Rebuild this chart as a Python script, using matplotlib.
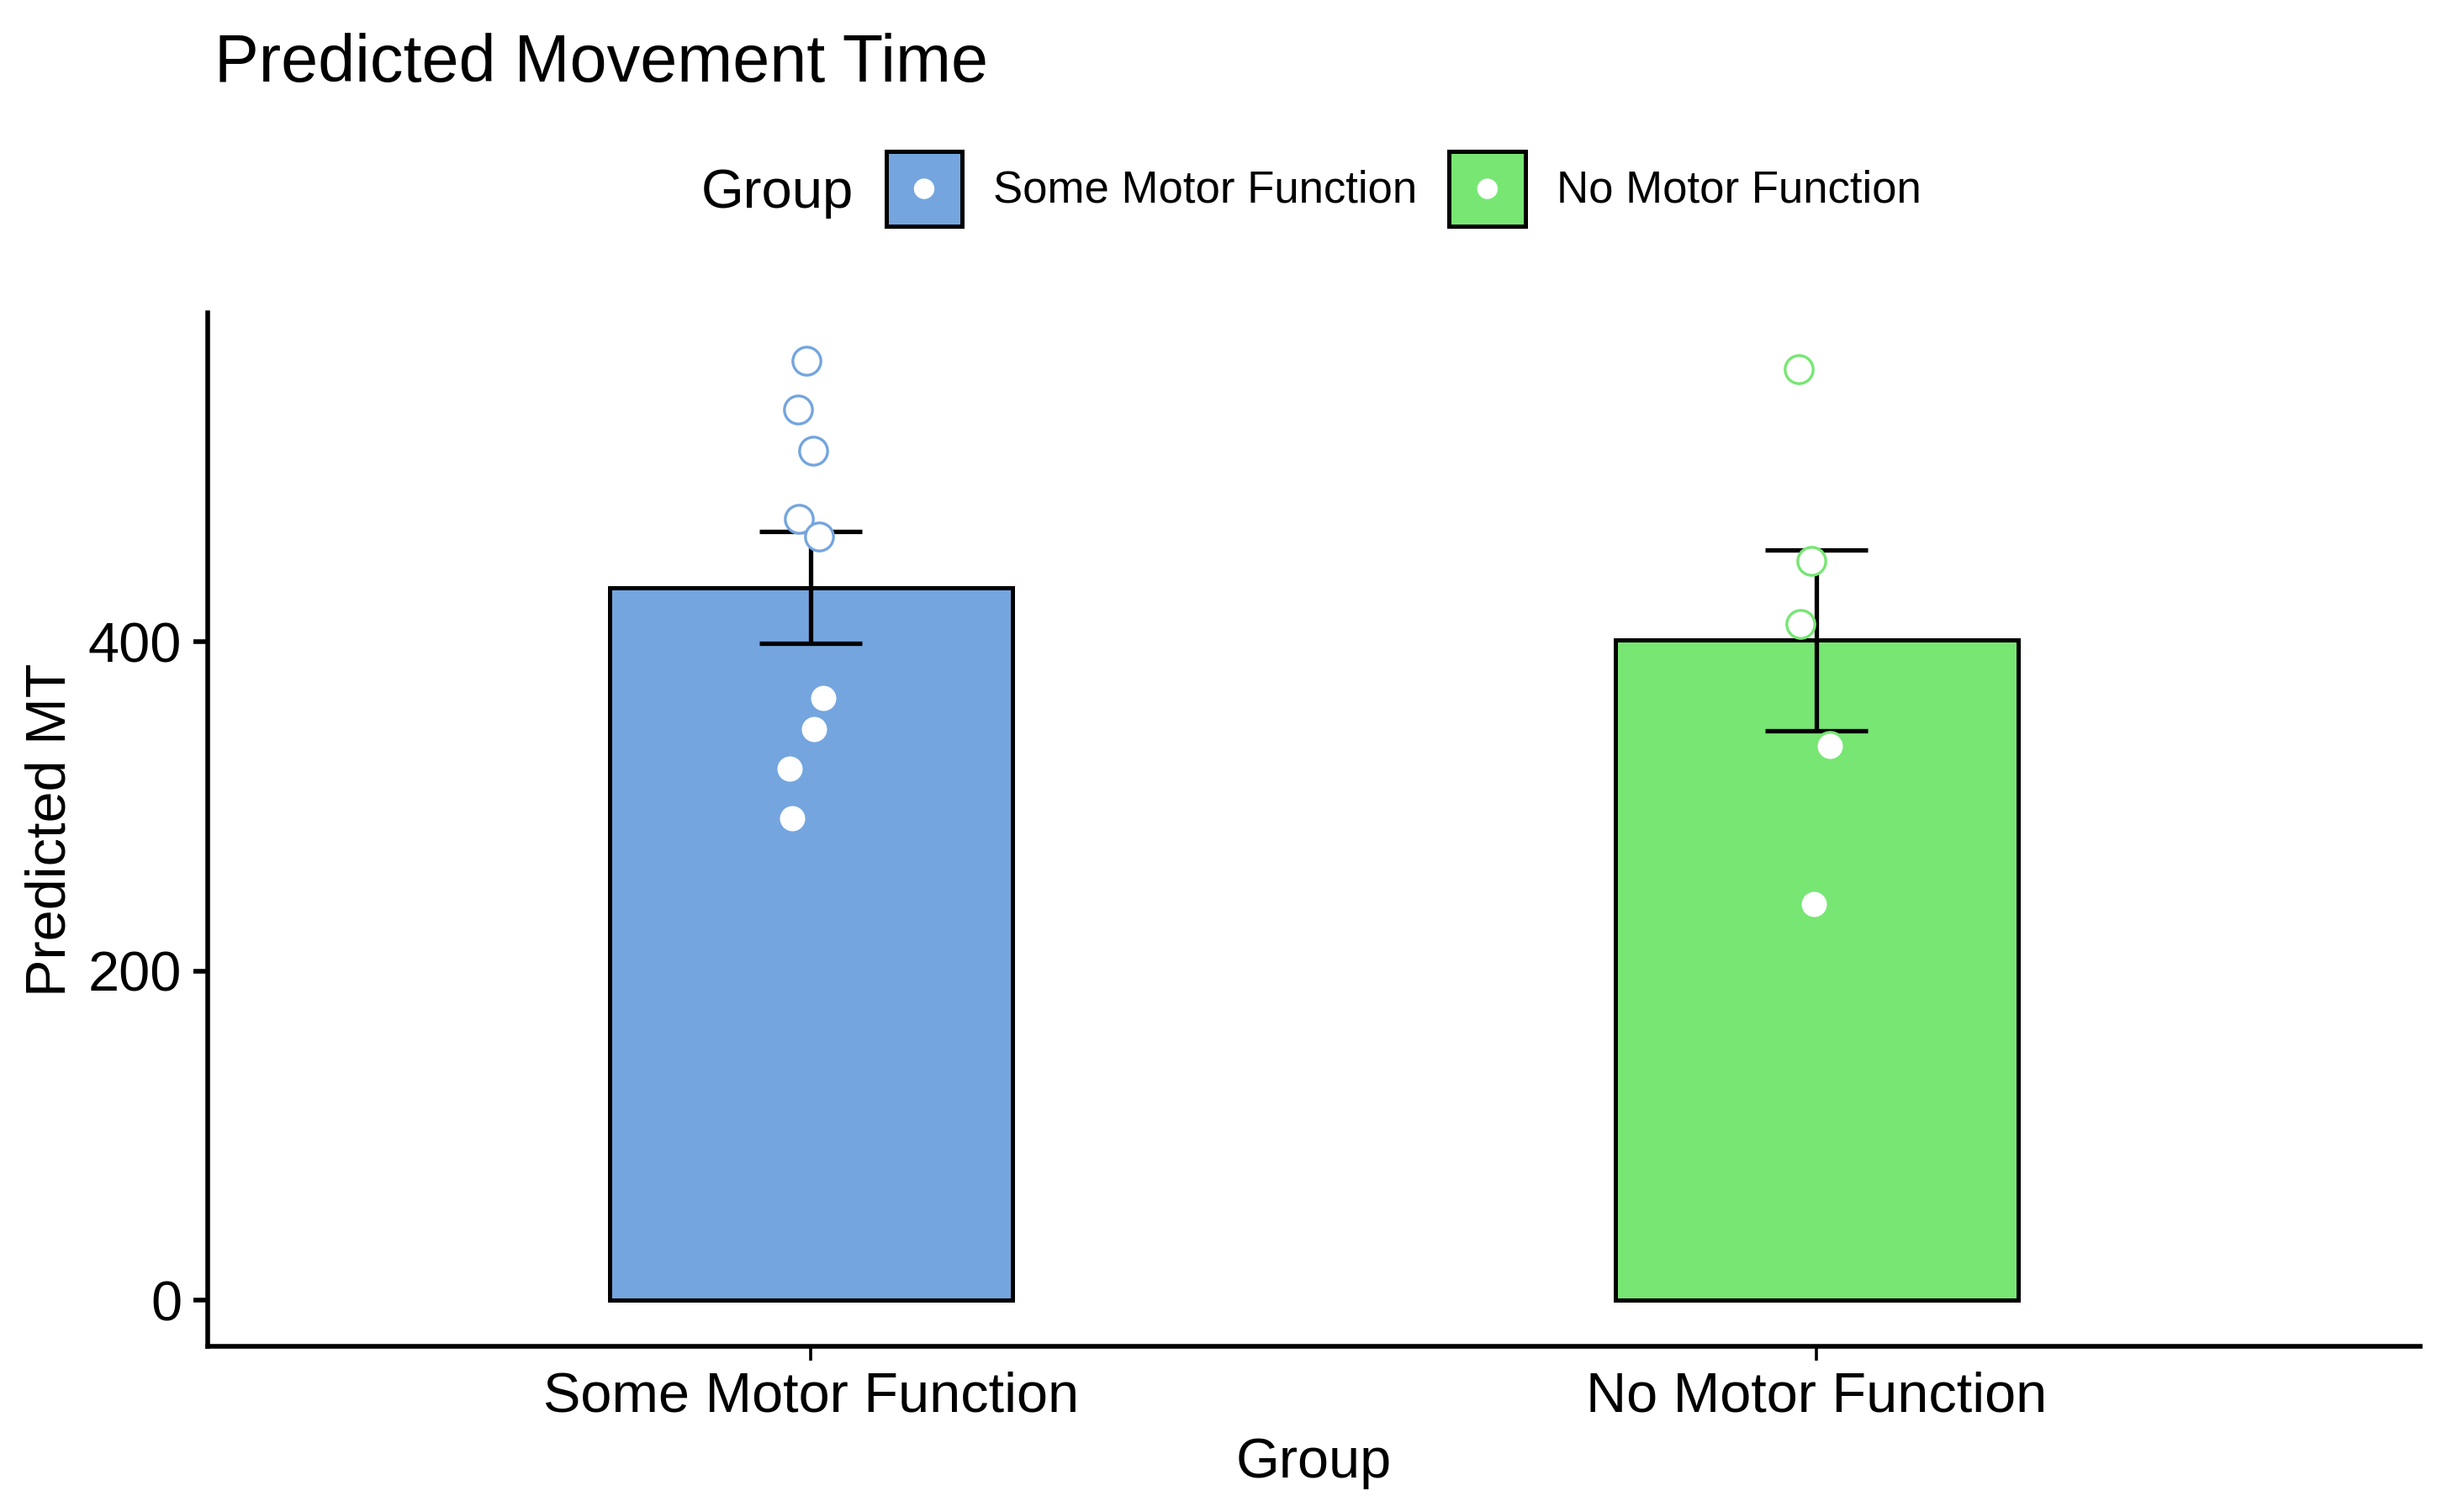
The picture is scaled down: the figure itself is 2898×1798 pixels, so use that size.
import numpy as np
import matplotlib
matplotlib.use('Agg')
import matplotlib.pyplot as plt
from matplotlib.patches import Patch, Circle
from matplotlib.legend_handler import HandlerTuple, HandlerPatch

plt.rcParams['font.family'] = ['Liberation Sans', 'DejaVu Sans']

# %% data
groups = ['Some Motor Function', 'No Motor Function']
colours = ['#74A5DF', '#77E673']
mean_mt = [433, 401]          # bar heights
se_mt = [34, 55]              # error bar half-length

# individual predicted MT values, with the small x jitter of each point
pts_some = [571, 541, 516, 475, 464, 366, 347, 323, 293]
jit_some = [-0.005, -0.013, 0.002, -0.012, 0.008, 0.012, 0.003, -0.021, -0.019]
pts_none = [566, 449, 411, 337, 241]
jit_none = [-0.018, -0.005, -0.016, 0.013, -0.003]

y_ticks = [0, 200, 400]

# %% figure
fig = plt.figure(figsize=(14.49, 8.99), dpi=200)
ax = fig.add_axes([0.0852, 0.1096, 0.9079, 0.6835])

xpos = np.arange(1, len(groups) + 1)
ax.bar(xpos, mean_mt, width=0.4, color=colours, edgecolor='black',
       linewidth=1.8, zorder=1)
ax.errorbar(xpos, mean_mt, yerr=se_mt, fmt='none', ecolor='black',
            elinewidth=1.9, capsize=22, capthick=1.9, zorder=2)

for i, (vals, jit) in enumerate([(pts_some, jit_some), (pts_none, jit_none)]):
    ax.plot(xpos[i] + np.array(jit), vals, linestyle='none', marker='o',
            markersize=12, markerfacecolor='white', markeredgecolor=colours[i],
            markeredgewidth=1.2, zorder=3)

ax.set_xlim(0.4, 2.6)
ax.set_ylim(-28, 600)
ax.set_xticks(xpos)
ax.set_xticklabels(groups)
ax.set_yticks(y_ticks)

for side in ['top', 'right']:
    ax.spines[side].set_visible(False)
for side in ['left', 'bottom']:
    ax.spines[side].set_linewidth(2.0)

ax.tick_params(axis='y', labelsize=24, width=2.0, length=6, pad=5,
               colors='black')
ax.tick_params(axis='x', labelsize=24, width=1.3, length=6, pad=4.5,
               colors='black')

ax.set_xlabel('Group', fontsize=24)
ax.xaxis.label.set_va('baseline')
ax.xaxis.set_label_coords(0.5, -0.127)
ax.set_ylabel('Predicted MT', fontsize=24)
ax.yaxis.set_label_coords(-0.059, 0.5)

fig.text(0.088, 0.946, 'Predicted Movement Time', fontsize=28.5,
         ha='left', va='baseline')


# %% legend - coloured key with a white dot in its centre
class KeyDot(Patch):
    pass


def centred_dot(legend, orig_handle, xdescent, ydescent, width, height,
                fontsize):
    return Circle((width / 2 - xdescent, height / 2 - ydescent), 4.9)


handles = []
for c in colours:
    key = Patch(facecolor=c, edgecolor='black', linewidth=1.8)
    dot = KeyDot(facecolor='white', edgecolor=c, linewidth=1.0)
    handles.append((key, dot))

fig.legend(handles, groups,
           handler_map={tuple: HandlerTuple(ndivide=1),
                        KeyDot: HandlerPatch(patch_func=centred_dot)},
           loc='center left', bbox_to_anchor=(1053.6 / 2898, 1 - 224.5 / 1798),
           ncol=2, frameon=False, fontsize=19, borderpad=0, borderaxespad=0,
           handlelength=1.72, handleheight=2.2, handletextpad=0.7,
           columnspacing=0.72)
fig.text(1015 / 2898, 1 - 247 / 1798, 'Group', fontsize=23.5,
         ha='right', va='baseline')

fig.savefig('out.png', dpi=200)
